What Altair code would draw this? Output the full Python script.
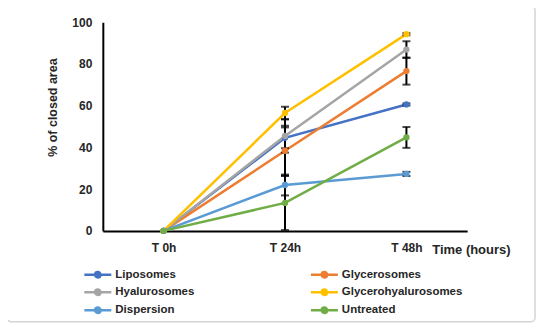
import altair as alt
import pandas as pd

times = ["T 0h", "T 24h", "T 48h"]
series = ["Liposomes", "Glycerosomes", "Hyalurosomes", "Glycerohyalurosomes", "Dispersion", "Untreated"]
colors = ["#4472C4", "#ED7D31", "#A5A5A5", "#FFC000", "#5B9BD5", "#70AD47"]
# legend fills column by column: left column first, then right column
legend_order = ["Liposomes", "Hyalurosomes", "Dispersion", "Glycerosomes", "Glycerohyalurosomes", "Untreated"]

liposomes = [0, 44.6, 60.6]
glycerosomes = [0, 38.4, 76.6]
hyalurosomes = [0, 45.5, 86.9]
glycerohyalurosomes = [0, 56.5, 94.3]
dispersion = [0, 22.0, 27.3]
untreated = [0, 13.4, 44.8]

err_liposomes = [0, 5.0, 0.5]
err_glycerosomes = [0, 12.0, 6.5]
err_hyalurosomes = [0, 8.0, 4.0]
err_glycerohyalurosomes = [0, 3.0, 0.5]
err_dispersion = [0, 5.0, 1.0]
err_untreated = [0, 13.0, 5.0]

vals = [liposomes, glycerosomes, hyalurosomes, glycerohyalurosomes, dispersion, untreated]
errs = [err_liposomes, err_glycerosomes, err_hyalurosomes, err_glycerohyalurosomes, err_dispersion, err_untreated]

rows = []
for s, v, e in zip(series, vals, errs):
    for t, vi, ei in zip(times, v, e):
        rows.append({"time": t, "series": s, "value": vi, "lo": max(vi - ei, 0), "hi": vi + ei})
df = pd.DataFrame(rows)

color_map = dict(zip(series, colors))
legend_colors = [color_map[s] for s in legend_order]

FONT = "Liberation Sans"
TXT = "#262626"

x = alt.X("time:N", sort=times, scale=alt.Scale(type="point", padding=0.5),
          axis=alt.Axis(title="Time (hours)", labelAngle=0, ticks=False, labelPadding=12,
                        domainColor="#000000", domainWidth=2, labelFontWeight="bold",
                        labelFontSize=12, labelColor=TXT, labelFont=FONT,
                        titleFont=FONT, titleFontSize=13, titleFontWeight="bold", titleColor=TXT,
                        titleAnchor="end", titleAlign="right", titleX=408, titleY=13,
                        titleBaseline="top"))
y_scale = alt.Scale(domain=[0, 100], nice=False)

color = alt.Color("series:N", sort=legend_order,
                  scale=alt.Scale(domain=legend_order, range=legend_colors),
                  legend=alt.Legend(title=None, orient="none", legendX=-14, legendY=246,
                                    columns=2, columnPadding=111, rowPadding=1,
                                    symbolType="M-1,0L4.4,0M1.16,0A0.54,0.54 0 1,0 2.24,0A0.54,0.54 0 1,0 1.16,0",
                                    symbolSize=100, symbolStrokeWidth=2.5, symbolOffset=-6,
                                    labelOffset=19.5, labelFont=FONT, labelFontSize=11.5,
                                    labelFontWeight="bold", labelColor=TXT))

base = alt.Chart(df)

lines = base.mark_line(strokeWidth=2.5).encode(
    x=x,
    y=alt.Y("value:Q", scale=y_scale,
            axis=alt.Axis(title="% of closed area", values=[0, 20, 40, 60, 80, 100], grid=False,
                          ticks=False, labelPadding=11, domainColor="#000000", domainWidth=2,
                          labelFont=FONT, labelFontSize=12, labelFontWeight="bold", labelColor=TXT,
                          titleFont=FONT, titleFontSize=12.5, titleFontWeight="bold", titleColor=TXT,
                          titlePadding=12, titleY=85)),
    color=color,
)

rules = base.mark_rule(color="#000000", strokeWidth=2).encode(
    x=x, y=alt.Y("lo:Q", scale=y_scale), y2="hi:Q")
caps_lo = base.mark_tick(color="#000000", thickness=2, size=8, orient="horizontal").encode(
    x=x, y=alt.Y("lo:Q", scale=y_scale))
caps_hi = base.mark_tick(color="#000000", thickness=2, size=8, orient="horizontal").encode(
    x=x, y=alt.Y("hi:Q", scale=y_scale))

rules = rules.transform_filter(alt.datum.time != "T 0h")
caps_lo = caps_lo.transform_filter(alt.datum.time != "T 0h")
caps_hi = caps_hi.transform_filter(alt.datum.time != "T 0h")

points = base.mark_point(filled=True, size=40, opacity=1).encode(
    x=x, y=alt.Y("value:Q", scale=y_scale), color=color)

frame = alt.Chart(alt.Data(values=[{"a": 1}])).mark_rect(
    fill="transparent", stroke="#d4d4d4", strokeWidth=1.5, cornerRadius=4
).encode(x=alt.value(-96), x2=alt.value(433), y=alt.value(-16), y2=alt.value(300))

chart = alt.layer(frame, lines, rules, caps_lo, caps_hi, points).properties(
    width=365, height=209,
    padding={"left": 95, "top": 14, "right": 75, "bottom": 95},
    autosize=alt.AutoSizeParams(type="none"),
).configure_view(stroke="transparent")

chart.save("out.html", embed_options={"renderer": "svg", "actions": False})
